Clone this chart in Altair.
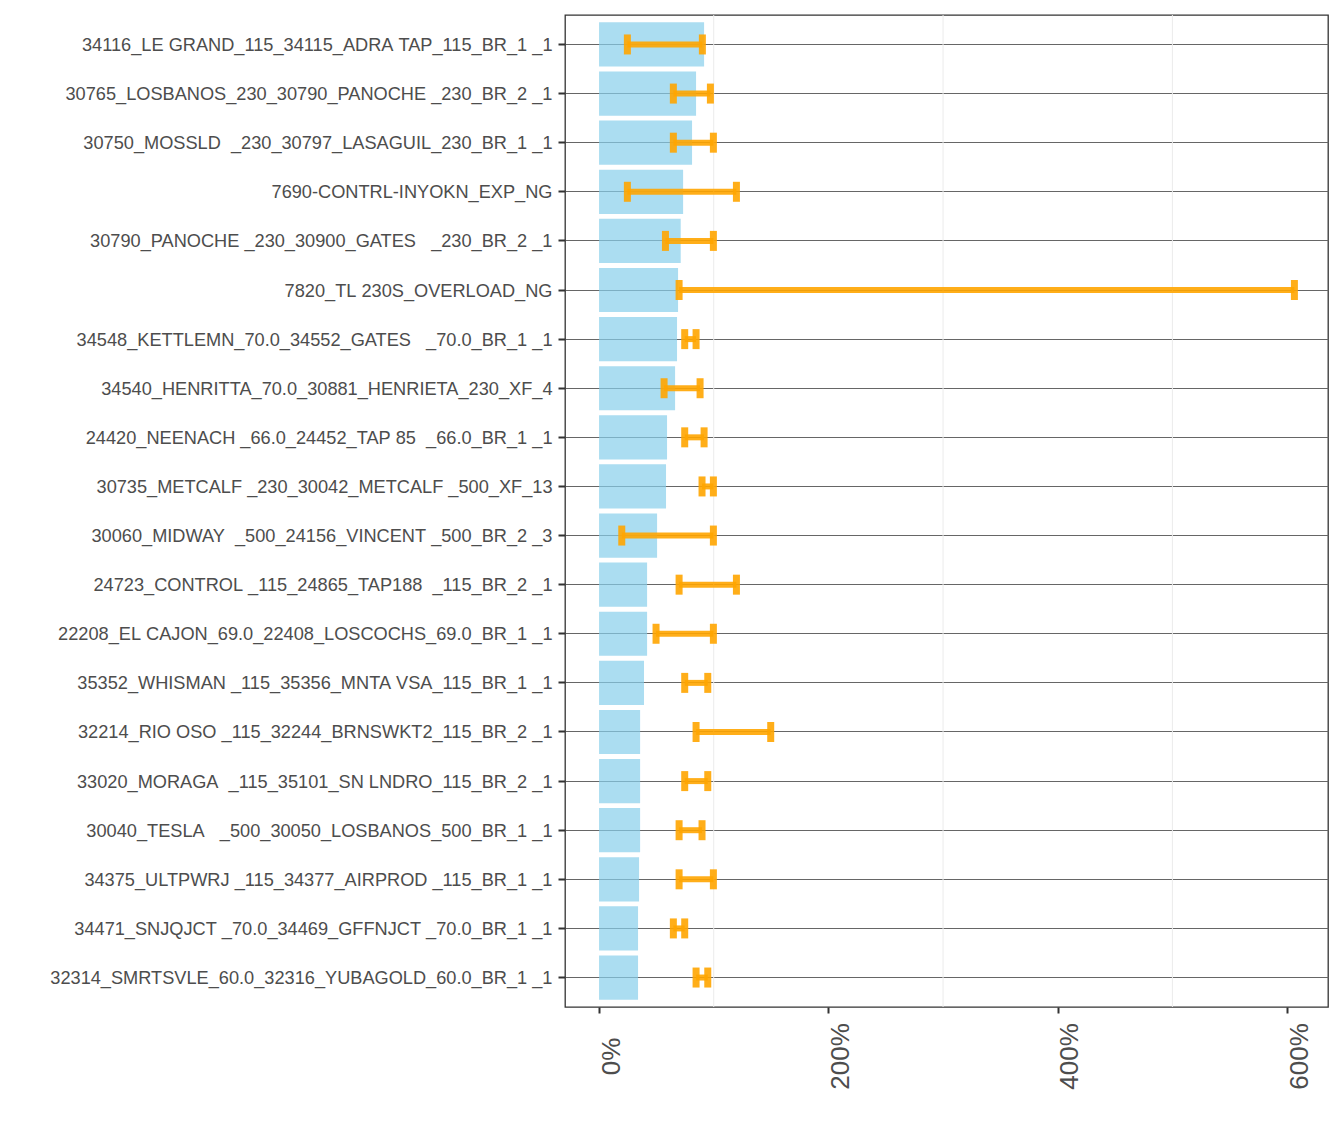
import altair as alt
import pandas as pd

categories = [
    "34116_LE GRAND_115_34115_ADRA TAP_115_BR_1 _1",
    "30765_LOSBANOS_230_30790_PANOCHE _230_BR_2 _1",
    "30750_MOSSLD  _230_30797_LASAGUIL_230_BR_1 _1",
    "7690-CONTRL-INYOKN_EXP_NG",
    "30790_PANOCHE _230_30900_GATES   _230_BR_2 _1",
    "7820_TL 230S_OVERLOAD_NG",
    "34548_KETTLEMN_70.0_34552_GATES   _70.0_BR_1 _1",
    "34540_HENRITTA_70.0_30881_HENRIETA_230_XF_4",
    "24420_NEENACH _66.0_24452_TAP 85  _66.0_BR_1 _1",
    "30735_METCALF _230_30042_METCALF _500_XF_13",
    "30060_MIDWAY  _500_24156_VINCENT _500_BR_2 _3",
    "24723_CONTROL _115_24865_TAP188  _115_BR_2 _1",
    "22208_EL CAJON_69.0_22408_LOSCOCHS_69.0_BR_1 _1",
    "35352_WHISMAN _115_35356_MNTA VSA_115_BR_1 _1",
    "32214_RIO OSO _115_32244_BRNSWKT2_115_BR_2 _1",
    "33020_MORAGA  _115_35101_SN LNDRO_115_BR_2 _1",
    "30040_TESLA   _500_30050_LOSBANOS_500_BR_1 _1",
    "34375_ULTPWRJ _115_34377_AIRPROD _115_BR_1 _1",
    "34471_SNJQJCT _70.0_34469_GFFNJCT _70.0_BR_1 _1",
    "32314_SMRTSVLE_60.0_32316_YUBAGOLD_60.0_BR_1 _1",
]

bar_values = [91.6, 84.6, 81.1, 73.3, 71.2, 68.9, 68.0, 66.3, 59.3, 58.4,
              50.6, 41.9, 41.9, 39.2, 35.8, 35.8, 35.8, 34.9, 34.0, 34.0]
err_low = [24.7, 64.8, 64.8, 24.7, 57.9, 69.8, 74.7, 56.7, 74.7, 89.8,
           19.8, 69.8, 49.7, 74.7, 84.6, 74.7, 69.8, 69.8, 64.8, 84.6]
err_high = [90.1, 97.1, 99.7, 119.8, 99.7, 606.4, 84.6, 88.1, 91.6, 99.7,
            99.7, 119.8, 99.7, 94.8, 149.7, 94.8, 89.8, 99.7, 74.7, 94.8]

x_ticks = [0, 200, 400, 600]
minor_grid = [100, 300, 500]

# keep runs of spaces visible in SVG text
labels = [c.replace(" ", "\u00a0") for c in categories]

df = pd.DataFrame({"name": labels, "value": bar_values, "low": err_low, "high": err_high})
grid_df = pd.DataFrame({"g": minor_grid})

x_scale = alt.Scale(domain=[-29.7, 635.7], nice=False, zero=False)
y_scale = alt.Scale(domain=labels, paddingInner=0.1, paddingOuter=0.15)

x_axis = alt.Axis(
    title=None, values=x_ticks, grid=False, domain=False,
    labelExpr="datum.value + '%'", labelAngle=270, labelAlign="center",
    labelBaseline="middle", labelOffset=12, labelPadding=43,
    labelFontSize=26, labelFont="Liberation Sans", labelColor="#4D4D4D",
    tickSize=6, tickWidth=2, tickColor="#333333",
)
y_axis = alt.Axis(
    title=None, grid=True, gridColor="#666666", gridWidth=1, bandPosition=0.5,
    domain=False, labelFontSize=18.2, labelFont="Liberation Sans",
    labelColor="#4D4D4D", labelLimit=700, labelPadding=6, labelOffset=1.5,
    tickSize=7, tickWidth=2, tickColor="#333333",
)

grid = alt.Chart(grid_df).mark_rule(color="#EBEBEB", strokeWidth=1).encode(
    x=alt.X("g:Q", scale=x_scale, axis=x_axis)
)

bars = alt.Chart(df).mark_bar(color="#87CEEB", opacity=0.7).encode(
    y=alt.Y("name:N", scale=y_scale, sort=labels, axis=y_axis),
    x=alt.X("value:Q", scale=x_scale, axis=x_axis),
    x2=alt.datum(0),
)

err = alt.Chart(df).mark_rule(color="#FFA500", opacity=0.9, strokeWidth=6).encode(
    y=alt.Y("name:N", scale=y_scale, sort=labels, axis=y_axis),
    x=alt.X("low:Q", scale=x_scale, axis=x_axis),
    x2="high:Q",
)

cap_lo = alt.Chart(df).mark_tick(color="#FFA500", opacity=0.9, size=20, thickness=7).encode(
    y=alt.Y("name:N", scale=y_scale, sort=labels, axis=y_axis),
    x=alt.X("low:Q", scale=x_scale, axis=x_axis),
)
cap_hi = alt.Chart(df).mark_tick(color="#FFA500", opacity=0.9, size=20, thickness=7).encode(
    y=alt.Y("name:N", scale=y_scale, sort=labels, axis=y_axis),
    x=alt.X("high:Q", scale=x_scale, axis=x_axis),
)

chart = alt.layer(grid, bars, err, cap_lo, cap_hi).properties(
    width=763, height=992,
    background="white",
    autosize=alt.AutoSizeParams(type="none"),
    padding={"left": 565, "top": 15, "right": 16, "bottom": 135},
).configure_view(
    stroke="#333333", strokeWidth=1.3
)

chart.save("out.html", embed_options={"renderer": "svg", "actions": False})
